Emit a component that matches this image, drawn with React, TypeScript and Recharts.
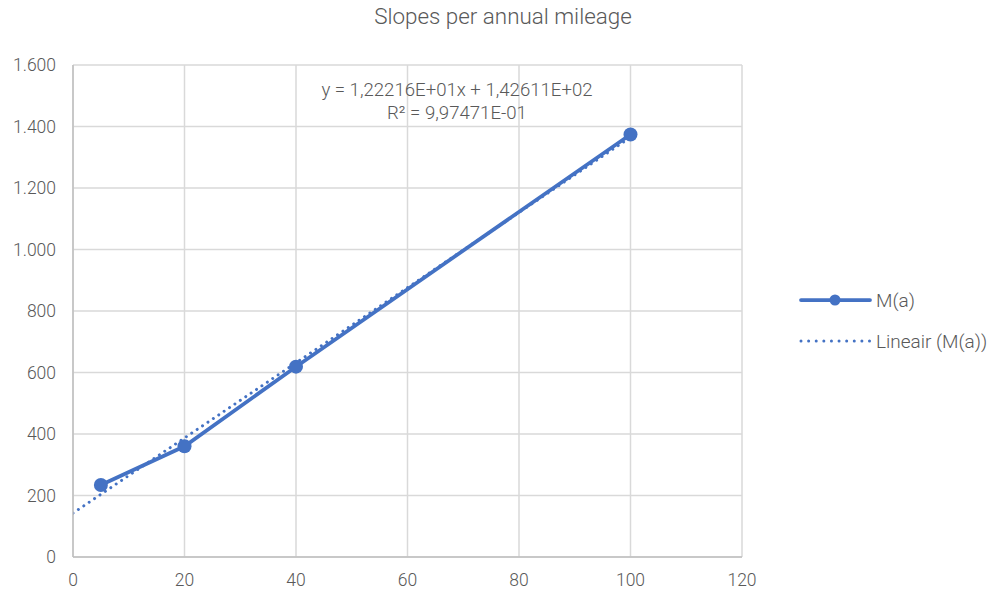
import React from 'react';
import { LineChart, Line, XAxis, YAxis, CartesianGrid } from 'recharts';

const title = 'Slopes per annual mileage';
const seriesName = 'M(a)';
const trendName = 'Lineair (M(a))';
const equationLine1 = 'y = 1,22216E+01x + 1,42611E+02';
const equationLine2 = 'R² = 9,97471E-01';

const mileage = [5, 20, 40, 100];
const slopes = [234, 360, 619, 1374];
const trendX = [0, 100];
const trendY = [142.611, 1364.771];

const xTicks = [0, 20, 40, 60, 80, 100, 120];
const yTicks = [0, 200, 400, 600, 800, 1000, 1200, 1400, 1600];

const mainData = mileage.map((x, i) => ({ x, y: slopes[i] }));
const trendData = trendX.map((x, i) => ({ x, t: trendY[i] }));

const BLUE = '#4472c4';
const TEXT = '#595959';
const FONT = 'Roboto, "Noto Sans", sans-serif';
const FS = 17.5;

const fmt = (n: number) => String(n).replace(/\B(?=(\d{3})+(?!\d))/g, '.');

const tickStyle = { fill: TEXT, fontSize: FS, fontFamily: FONT, fontWeight: 300 };

export default function App() {
  return (
    <div style={{ position: 'absolute', left: 0, top: 0, width: 990, height: 594, background: '#fff', fontFamily: FONT }}>
      <div style={{ position: 'absolute', left: 0, width: 1006, top: 3, textAlign: 'center', fontSize: 22.4, color: TEXT, fontWeight: 300 }}>
        {title}
      </div>
      <LineChart width={990} height={594} margin={{ top: 65, right: 248, bottom: 7, left: 13 }}>
        <CartesianGrid stroke="#d9d9d9" strokeWidth={1.5} />
        <XAxis
          type="number"
          dataKey="x"
          domain={[0, 120]}
          ticks={xTicks}
          allowDataOverflow
          height={30}
          stroke="#bfbfbf"
          strokeWidth={1.5}
          tickLine={false}
          tickSize={0}
          tickMargin={17}
          tick={tickStyle}
        />
        <YAxis
          type="number"
          domain={[0, 1600]}
          ticks={yTicks}
          width={60}
          stroke="#bfbfbf"
          strokeWidth={1.5}
          tickLine={false}
          tickSize={0}
          tickMargin={17}
          tickFormatter={fmt}
          tick={tickStyle}
        />
        <Line
          data={trendData}
          dataKey="t"
          name={trendName}
          stroke={BLUE}
          strokeWidth={3}
          strokeLinecap="round"
          strokeDasharray="0.01 6.5"
          dot={false}
          activeDot={false}
          isAnimationActive={false}
        />
        <Line
          data={mainData}
          dataKey="y"
          name={seriesName}
          stroke={BLUE}
          strokeWidth={3.75}
          dot={{ r: 7, fill: BLUE, stroke: BLUE, strokeWidth: 0 }}
          activeDot={false}
          isAnimationActive={false}
        />
      </LineChart>
      <div style={{ position: 'absolute', left: 257, width: 400, top: 79, textAlign: 'center', fontSize: 18.6, color: TEXT, lineHeight: '23px', fontWeight: 300 }}>
        <div>{equationLine1}</div>
        <div>{equationLine2}</div>
      </div>
      <div style={{ position: 'absolute', left: 798, top: 288, fontSize: 19, color: TEXT, fontWeight: 300 }}>
        <div style={{ display: 'flex', alignItems: 'center', height: 24, marginBottom: 17 }}>
          <svg width={74} height={16} style={{ marginRight: 4 }}>
            <line x1={3} y1={8} x2={72} y2={8} stroke={BLUE} strokeWidth={3.75} strokeLinecap="round" />
            <circle cx={37} cy={8} r={5.5} fill={BLUE} />
          </svg>
          <span>{seriesName}</span>
        </div>
        <div style={{ display: 'flex', alignItems: 'center', height: 24 }}>
          <svg width={74} height={16} style={{ marginRight: 4 }}>
            <line x1={3} y1={8} x2={72} y2={8} stroke={BLUE} strokeWidth={3} strokeLinecap="round" strokeDasharray="0.01 7.6" />
          </svg>
          <span>{trendName}</span>
        </div>
      </div>
    </div>
  );
}
